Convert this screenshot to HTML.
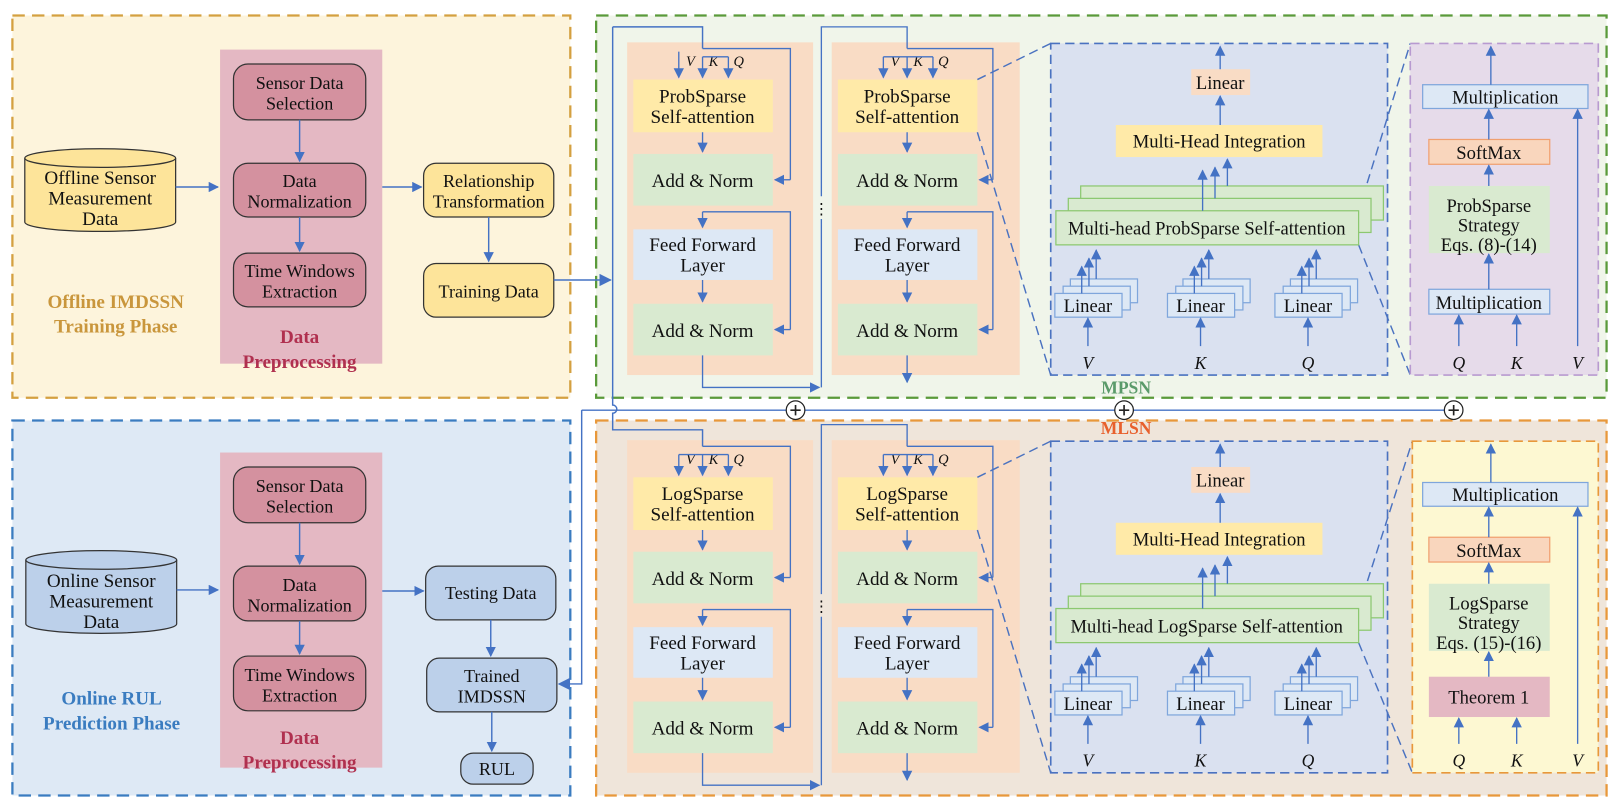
<!DOCTYPE html>
<html><head><meta charset="utf-8"><style>
html,body{margin:0;padding:0;background:#fff;}
svg{display:block;font-family:"Liberation Serif","Times New Roman",serif;}
svg text{font-family:"Liberation Serif","Times New Roman",serif;fill:#111;}
.p{font-size:18.5px;font-family:"Liberation Serif",serif;}
.l{font-size:17.5px;font-family:"Liberation Serif",serif;}
.s{font-size:18px;font-family:"Liberation Serif",serif;}
.v{font-size:14px;font-style:italic;font-family:"Liberation Serif",serif;}
.vb{font-size:17px;font-style:italic;font-family:"Liberation Serif",serif;}
</style></head><body>
<svg width="1620" height="810" viewBox="0 0 1568 784" xmlns="http://www.w3.org/2000/svg" font-family="Liberation Serif, serif">
<defs>
<marker id="a" viewBox="0 0 10 10" refX="9" refY="5" markerWidth="10" markerHeight="10" orient="auto" markerUnits="userSpaceOnUse"><path d="M0,0 L10,5 L0,10 z" fill="#4472c4"/></marker>
<marker id="b" viewBox="0 0 10 10" refX="9" refY="5" markerWidth="12" markerHeight="12" orient="auto" markerUnits="userSpaceOnUse"><path d="M0,0 L10,5 L0,10 z" fill="#4472c4"/></marker>
</defs>
<!-- LEFT TOP -->
<rect x="12" y="15" width="540" height="370" fill="#fdf4dc" stroke="#d4a040" stroke-width="2.2" stroke-dasharray="12,7"/>
<rect x="213" y="48" width="157" height="304" fill="#e4b8c3"/>
<g stroke="#333" stroke-width="1.2" fill="#d4919f">
<rect x="226" y="62" width="128" height="54" rx="14"/>
<rect x="226" y="158" width="128" height="52" rx="14"/>
<rect x="226" y="245" width="128" height="52" rx="14"/>
</g>
<g fill="#fde49a" stroke="#333" stroke-width="1.2">
<rect x="410" y="158" width="126" height="52" rx="12"/>
<rect x="410" y="255" width="126" height="52" rx="12"/>
<path d="M24,153 v62 a73,9 0 0 0 146,0 v-62"/>
<ellipse cx="97" cy="153" rx="73" ry="9"/>
</g>
<g class="l" text-anchor="middle">
<text x="290" y="86">Sensor Data</text><text x="290" y="106">Selection</text>
<text x="290" y="181">Data</text><text x="290" y="201">Normalization</text>
<text x="290" y="268">Time Windows</text><text x="290" y="288">Extraction</text>
<text x="473" y="181">Relationship</text><text x="473" y="201">Transformation</text>
<text x="473" y="288">Training Data</text>
<text x="97" y="178" style="font-size:18.5px">Offline Sensor</text><text x="97" y="198" style="font-size:18.5px">Measurement</text><text x="97" y="218" style="font-size:18.5px">Data</text>
</g>
<g font-size="18.5" font-weight="bold" text-anchor="middle">
<text x="290" y="332" style="fill:#b0304f">Data</text><text x="290" y="356" style="fill:#b0304f">Preprocessing</text>
<text x="112" y="298" style="fill:#c9963c">Offline IMDSSN</text><text x="112" y="322" style="fill:#c9963c">Training Phase</text>
</g>
<g stroke="#4472c4" stroke-width="1.4" fill="none" marker-end="url(#a)">
<path d="M170,181 H211"/><path d="M290,116 V156"/><path d="M290,210 V243"/>
<path d="M370,181 H408"/><path d="M473,210 V253"/>
</g>

<!-- LEFT BOTTOM -->
<rect x="12" y="407" width="540" height="363" fill="#dee9f5" stroke="#3a7cc0" stroke-width="2.2" stroke-dasharray="12,7"/>
<rect x="213" y="438" width="157" height="305" fill="#e4b8c3"/>
<g stroke="#333" stroke-width="1.2" fill="#d4919f">
<rect x="226" y="452" width="128" height="54" rx="14"/>
<rect x="226" y="548" width="128" height="53" rx="14"/>
<rect x="226" y="635" width="128" height="53" rx="14"/>
</g>
<g fill="#bcd0ea" stroke="#333" stroke-width="1.2">
<rect x="412" y="548" width="126" height="52" rx="12"/>
<rect x="413" y="637" width="126" height="52" rx="12"/>
<rect x="446" y="729" width="70" height="30" rx="12"/>
<path d="M25,542 v62 a73,9 0 0 0 146,0 v-62"/>
<ellipse cx="98" cy="542" rx="73" ry="9"/>
</g>
<g class="l" text-anchor="middle">
<text x="290" y="476">Sensor Data</text><text x="290" y="496">Selection</text>
<text x="290" y="572">Data</text><text x="290" y="592">Normalization</text>
<text x="290" y="659">Time Windows</text><text x="290" y="679">Extraction</text>
<text x="475" y="580">Testing Data</text>
<text x="476" y="660">Trained</text><text x="476" y="680">IMDSSN</text>
<text x="481" y="750">RUL</text>
<text x="98" y="568" style="font-size:18.5px">Online Sensor</text><text x="98" y="588" style="font-size:18.5px">Measurement</text><text x="98" y="608" style="font-size:18.5px">Data</text>
</g>
<g font-size="18.5" font-weight="bold" text-anchor="middle">
<text x="290" y="720" style="fill:#b0304f">Data</text><text x="290" y="744" style="fill:#b0304f">Preprocessing</text>
<text x="108" y="682" style="fill:#3a7cc0">Online RUL</text><text x="108" y="706" style="fill:#3a7cc0">Prediction Phase</text>
</g>
<g stroke="#4472c4" stroke-width="1.4" fill="none" marker-end="url(#a)">
<path d="M171,571 H211"/><path d="M290,506 V546"/><path d="M290,601 V633"/>
<path d="M370,572 H410"/><path d="M475,600 V635"/><path d="M476,689 V727"/>
</g>

<!-- RIGHT containers -->
<rect x="577" y="15" width="978" height="370" fill="#f0f5ea" stroke="#5a9a3a" stroke-width="2.2" stroke-dasharray="12,7"/>
<rect x="577" y="407" width="978" height="363" fill="#efe5da" stroke="#e8983a" stroke-width="2.2" stroke-dasharray="12,7"/>
<text x="1090" y="381" font-size="17" font-weight="bold" text-anchor="middle" style="fill:#5a9a6a">MPSN</text>
<text x="1090" y="420" font-size="17" font-weight="bold" text-anchor="middle" style="fill:#e8602c">MLSN</text>

<!-- TOP ENCODER -->
<g>
<rect x="607" y="41" width="180" height="322" fill="#f9dcc5"/>
<rect x="805" y="41" width="182" height="322" fill="#f9dcc5"/>
<rect x="613" y="77" width="135" height="51" fill="#ffeaa8"/>
<rect x="613" y="149" width="135" height="50" fill="#d9ead0"/>
<rect x="613" y="222" width="135" height="49" fill="#dde8f5"/>
<rect x="613" y="294" width="135" height="50" fill="#d9ead0"/>
<rect x="811" y="77" width="135" height="51" fill="#ffeaa8"/>
<rect x="811" y="149" width="135" height="50" fill="#d9ead0"/>
<rect x="811" y="222" width="135" height="49" fill="#dde8f5"/>
<rect x="811" y="294" width="135" height="50" fill="#d9ead0"/>
<g class="p" text-anchor="middle">
<text x="680" y="181">Add &amp; Norm</text><text x="680" y="243">Feed Forward</text><text x="680" y="263">Layer</text><text x="680" y="326">Add &amp; Norm</text>
<text x="878" y="181">Add &amp; Norm</text><text x="878" y="243">Feed Forward</text><text x="878" y="263">Layer</text><text x="878" y="326">Add &amp; Norm</text>
<text x="680" y="99">ProbSparse</text><text x="680" y="119">Self-attention</text>
<text x="878" y="99">ProbSparse</text><text x="878" y="119">Self-attention</text>
</g>
<g class="v">
<text x="664" y="64">V</text><text x="686" y="64">K</text><text x="710" y="64">Q</text>
<text x="862" y="64">V</text><text x="884" y="64">K</text><text x="908" y="64">Q</text>
</g>
<g stroke="#4472c4" stroke-width="1.3" fill="none">
<path d="M680,47 H765 V174"/><path d="M680,205 H765 V319"/>
<path d="M680,55 H705"/><path d="M878,47 H961 V174"/><path d="M878,205 H961 V319"/>
<path d="M855,55 H903"/>
<path d="M680,344 V375 H793" marker-end="url(#a)"/>
<path d="M795,375 V212"/><path d="M795,190 V26 H878 V47"/>
</g>
<g stroke="#4472c4" stroke-width="1.3" fill="none" marker-end="url(#a)">
<path d="M765,174 H750"/><path d="M765,319 H750"/><path d="M961,174 H948"/><path d="M961,319 H948"/>
<path d="M680,128 V147"/><path d="M680,205 V220"/><path d="M680,271 V292"/>
<path d="M878,128 V147"/><path d="M878,205 V220"/><path d="M878,271 V292"/><path d="M878,344 V370"/>
<path d="M680,55 V75"/><path d="M705,55 V75"/><path d="M657,50 V75"/><path d="M878,55 V75"/><path d="M903,55 V75"/><path d="M855,55 V75"/>
</g>
<text x="795" y="207" font-size="15" text-anchor="middle">⋮</text>

<rect x="1017" y="42" width="326" height="321" fill="#dae1f0" stroke="#4a72c0" stroke-width="1.6" stroke-dasharray="9,5"/>
<g stroke="#4a72c0" stroke-width="1.4" stroke-dasharray="9,5" fill="none">
<path d="M946,77 L1017,42"/><path d="M946,128 L1017,363"/>
<path d="M1315,204 L1365,42"/><path d="M1315,237 L1365,363"/>
</g>
<rect x="1153" y="67" width="57" height="25" fill="#f9dcc5"/>
<text x="1181" y="86" class="s" text-anchor="middle">Linear</text>
<rect x="1080" y="121" width="200" height="31" fill="#ffeaa8"/>
<text x="1180" y="143" class="s" text-anchor="middle">Multi-Head Integration</text>
<g fill="#d9ead0" stroke="#8cc870" stroke-width="1.2">
<rect x="1046" y="180" width="293" height="33"/><rect x="1034" y="192" width="293" height="33"/><rect x="1022" y="204" width="293" height="33"/>
</g>
<text x="1168" y="227" class="s" text-anchor="middle">Multi-head ProbSparse Self-attention</text>
<g fill="#dde8f5" stroke="#7fa6dc" stroke-width="1.2">
<rect x="1036" y="270" width="65" height="23"/><rect x="1029" y="277" width="65" height="23"/><rect x="1021" y="284" width="65" height="23"/>
<rect x="1145" y="270" width="65" height="23"/><rect x="1138" y="277" width="65" height="23"/><rect x="1130" y="284" width="65" height="23"/>
<rect x="1249" y="270" width="65" height="23"/><rect x="1242" y="277" width="65" height="23"/><rect x="1234" y="284" width="65" height="23"/>
</g>
<g class="s" text-anchor="middle">
<text x="1053" y="302">Linear</text><text x="1162" y="302">Linear</text><text x="1266" y="302">Linear</text>
</g>
<g class="vb" text-anchor="middle">
<text x="1053" y="357">V</text><text x="1162" y="357">K</text><text x="1266" y="357">Q</text>
</g>
<g stroke="#4472c4" stroke-width="1.3" fill="none" marker-end="url(#a)">
<path d="M1181,67 V45"/><path d="M1181,121 V93"/>
<path d="M1164,204 V165"/><path d="M1176,192 V162"/><path d="M1188,180 V154"/>
<path d="M1053,335 V308"/><path d="M1162,335 V308"/><path d="M1266,335 V308"/>
<path d="M1047,284 V258"/><path d="M1054,277 V250"/><path d="M1061,270 V242"/>
<path d="M1156,284 V258"/><path d="M1163,277 V250"/><path d="M1170,270 V242"/>
<path d="M1260,284 V258"/><path d="M1267,277 V250"/><path d="M1274,270 V242"/>
</g>
</g>
<rect x="1365" y="42" width="182" height="321" fill="#e6dbea" stroke="#b89ad0" stroke-width="1.6" stroke-dasharray="9,5"/>
<rect x="1377" y="82" width="160" height="23" fill="#dde8f5" stroke="#7fa6dc" stroke-width="1.2"/>
<rect x="1383" y="135" width="117" height="24" fill="#f9d6bd" stroke="#f0a070" stroke-width="1.2"/>
<rect x="1383" y="180" width="117" height="65" fill="#d9ead0"/>
<rect x="1383" y="280" width="117" height="24" fill="#dde8f5" stroke="#7fa6dc" stroke-width="1.2"/>
<g class="s" text-anchor="middle">
<text x="1457" y="100">Multiplication</text><text x="1441" y="154">SoftMax</text>
<text x="1441" y="205">ProbSparse</text><text x="1441" y="224">Strategy</text><text x="1441" y="243">Eqs. (8)-(14)</text>
<text x="1441" y="299">Multiplication</text>
</g>
<g class="vb" text-anchor="middle">
<text x="1412" y="357">Q</text><text x="1468" y="357">K</text><text x="1527" y="357">V</text>
</g>
<g stroke="#4472c4" stroke-width="1.3" fill="none" marker-end="url(#a)">
<path d="M1443,82 V45"/><path d="M1441,135 V106"/><path d="M1441,180 V160"/><path d="M1441,280 V246"/>
<path d="M1412,335 V305"/><path d="M1468,335 V305"/><path d="M1527,335 V106"/>
</g>

<!-- BOTTOM -->
<g transform="translate(0,385)">
<rect x="607" y="41" width="180" height="322" fill="#f9dcc5"/>
<rect x="805" y="41" width="182" height="322" fill="#f9dcc5"/>
<rect x="613" y="77" width="135" height="51" fill="#ffeaa8"/>
<rect x="613" y="149" width="135" height="50" fill="#d9ead0"/>
<rect x="613" y="222" width="135" height="49" fill="#dde8f5"/>
<rect x="613" y="294" width="135" height="50" fill="#d9ead0"/>
<rect x="811" y="77" width="135" height="51" fill="#ffeaa8"/>
<rect x="811" y="149" width="135" height="50" fill="#d9ead0"/>
<rect x="811" y="222" width="135" height="49" fill="#dde8f5"/>
<rect x="811" y="294" width="135" height="50" fill="#d9ead0"/>
<g class="p" text-anchor="middle">
<text x="680" y="181">Add &amp; Norm</text><text x="680" y="243">Feed Forward</text><text x="680" y="263">Layer</text><text x="680" y="326">Add &amp; Norm</text>
<text x="878" y="181">Add &amp; Norm</text><text x="878" y="243">Feed Forward</text><text x="878" y="263">Layer</text><text x="878" y="326">Add &amp; Norm</text>
<text x="680" y="99">LogSparse</text><text x="680" y="119">Self-attention</text>
<text x="878" y="99">LogSparse</text><text x="878" y="119">Self-attention</text>
</g>
<g class="v">
<text x="664" y="64">V</text><text x="686" y="64">K</text><text x="710" y="64">Q</text>
<text x="862" y="64">V</text><text x="884" y="64">K</text><text x="908" y="64">Q</text>
</g>
<g stroke="#4472c4" stroke-width="1.3" fill="none">
<path d="M680,47 H765 V174"/><path d="M680,205 H765 V319"/>
<path d="M657,55 H705"/><path d="M878,47 H961 V174"/><path d="M878,205 H961 V319"/>
<path d="M855,55 H903"/>
<path d="M680,344 V375 H793" marker-end="url(#a)"/>
<path d="M795,375 V212"/><path d="M795,190 V26 H878 V47"/>
</g>
<g stroke="#4472c4" stroke-width="1.3" fill="none" marker-end="url(#a)">
<path d="M765,174 H750"/><path d="M765,319 H750"/><path d="M961,174 H948"/><path d="M961,319 H948"/>
<path d="M680,128 V147"/><path d="M680,205 V220"/><path d="M680,271 V292"/>
<path d="M878,128 V147"/><path d="M878,205 V220"/><path d="M878,271 V292"/><path d="M878,344 V370"/>
<path d="M680,55 V75"/><path d="M705,55 V75"/><path d="M657,55 V75"/><path d="M878,55 V75"/><path d="M903,55 V75"/><path d="M855,55 V75"/>
</g>
<text x="795" y="207" font-size="15" text-anchor="middle">⋮</text>
<rect x="1017" y="42" width="326" height="321" fill="#dae1f0" stroke="#4a72c0" stroke-width="1.6" stroke-dasharray="9,5"/>
<g stroke="#4a72c0" stroke-width="1.4" stroke-dasharray="9,5" fill="none">
<path d="M946,77 L1017,42"/><path d="M946,128 L1017,363"/>
<path d="M1315,204 L1367,42"/><path d="M1315,237 L1367,363"/>
</g>
<rect x="1153" y="67" width="57" height="25" fill="#f9dcc5"/>
<text x="1181" y="86" class="s" text-anchor="middle">Linear</text>
<rect x="1080" y="121" width="200" height="31" fill="#ffeaa8"/>
<text x="1180" y="143" class="s" text-anchor="middle">Multi-Head Integration</text>
<g fill="#d9ead0" stroke="#8cc870" stroke-width="1.2">
<rect x="1046" y="180" width="293" height="33"/><rect x="1034" y="192" width="293" height="33"/><rect x="1022" y="204" width="293" height="33"/>
</g>
<text x="1168" y="227" class="s" text-anchor="middle">Multi-head LogSparse Self-attention</text>
<g fill="#dde8f5" stroke="#7fa6dc" stroke-width="1.2">
<rect x="1036" y="270" width="65" height="23"/><rect x="1029" y="277" width="65" height="23"/><rect x="1021" y="284" width="65" height="23"/>
<rect x="1145" y="270" width="65" height="23"/><rect x="1138" y="277" width="65" height="23"/><rect x="1130" y="284" width="65" height="23"/>
<rect x="1249" y="270" width="65" height="23"/><rect x="1242" y="277" width="65" height="23"/><rect x="1234" y="284" width="65" height="23"/>
</g>
<g class="s" text-anchor="middle">
<text x="1053" y="302">Linear</text><text x="1162" y="302">Linear</text><text x="1266" y="302">Linear</text>
</g>
<g class="vb" text-anchor="middle">
<text x="1053" y="357">V</text><text x="1162" y="357">K</text><text x="1266" y="357">Q</text>
</g>
<g stroke="#4472c4" stroke-width="1.3" fill="none" marker-end="url(#a)">
<path d="M1181,67 V45"/><path d="M1181,121 V93"/>
<path d="M1164,204 V165"/><path d="M1176,192 V162"/><path d="M1188,180 V154"/>
<path d="M1053,335 V308"/><path d="M1162,335 V308"/><path d="M1266,335 V308"/>
<path d="M1047,284 V258"/><path d="M1054,277 V250"/><path d="M1061,270 V242"/>
<path d="M1156,284 V258"/><path d="M1163,277 V250"/><path d="M1170,270 V242"/>
<path d="M1260,284 V258"/><path d="M1267,277 V250"/><path d="M1274,270 V242"/>
</g>
<rect x="1367" y="42" width="180" height="321" fill="#fdf8d2" stroke="#e8983a" stroke-width="1.6" stroke-dasharray="9,5"/>
<rect x="1377" y="82" width="160" height="23" fill="#dde8f5" stroke="#7fa6dc" stroke-width="1.2"/>
<rect x="1383" y="135" width="117" height="24" fill="#f9d6bd" stroke="#f0a070" stroke-width="1.2"/>
<rect x="1383" y="180" width="117" height="65" fill="#d9ead0"/>
<rect x="1383" y="270" width="117" height="39" fill="#e4b8c3"/>
<g class="s" text-anchor="middle">
<text x="1457" y="100">Multiplication</text><text x="1441" y="154">SoftMax</text>
<text x="1441" y="205">LogSparse</text><text x="1441" y="224">Strategy</text><text x="1441" y="243">Eqs. (15)-(16)</text>
<text x="1441" y="296">Theorem 1</text>
</g>
<g class="vb" text-anchor="middle">
<text x="1412" y="357">Q</text><text x="1468" y="357">K</text><text x="1527" y="357">V</text>
</g>
<g stroke="#4472c4" stroke-width="1.3" fill="none" marker-end="url(#a)">
<path d="M1443,82 V45"/><path d="M1441,135 V106"/><path d="M1441,180 V160"/><path d="M1441,270 V246"/>
<path d="M1412,335 V310"/><path d="M1468,335 V310"/><path d="M1527,335 V106"/>
</g>
</g>

<!-- global connectors -->
<g stroke="#4472c4" stroke-width="1.4" fill="none">
<path d="M536,271 H591" marker-end="url(#b)"/>
<path d="M593,26 H680 V47"/>
<path d="M593,26 V392 a4,4 0 0 1 0,8 V416 H680 V432"/>
<path d="M563,397 H1398"/>
<path d="M563,397 V662 H541" marker-end="url(#b)"/>
</g>
<g fill="#fff" stroke="#222" stroke-width="1.2">
<circle cx="770" cy="397" r="9"/><circle cx="1088" cy="397" r="9"/><circle cx="1407" cy="397" r="9"/>
</g>
<g stroke="#222" stroke-width="1.6">
<path d="M765,397 H775 M770,392 V402"/><path d="M1083,397 H1093 M1088,392 V402"/><path d="M1402,397 H1412 M1407,392 V402"/>
</g>
</svg>
</body></html>
